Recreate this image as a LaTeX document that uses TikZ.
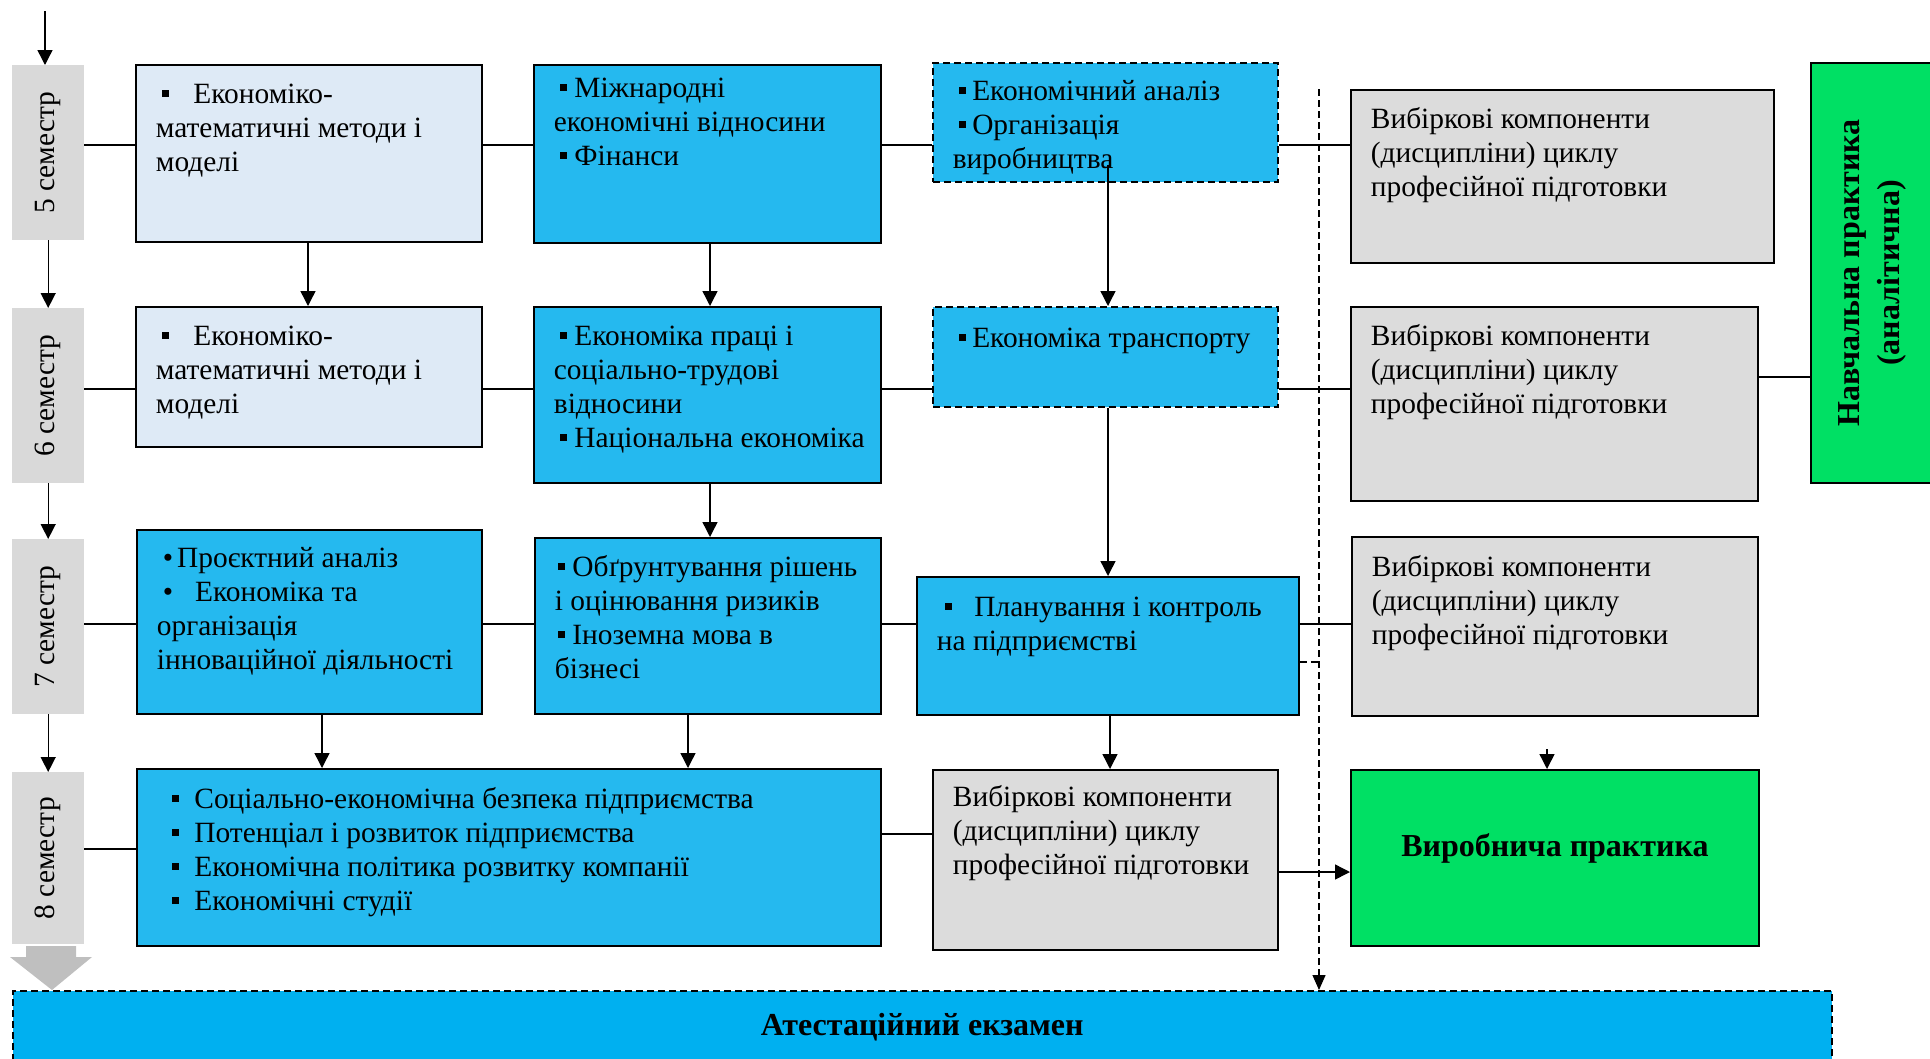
\documentclass[tikz,border=0pt]{standalone}
\usepackage{fontspec}
\setmainfont{Liberation Serif}
\usepackage{graphicx}
\usetikzlibrary{arrows.meta,calc}

\definecolor{semgray}{HTML}{D9D9D9}
\definecolor{lblue}{HTML}{DEEAF6}
\definecolor{cblue}{HTML}{25B9EF}
\definecolor{cgray}{HTML}{DCDCDC}
\definecolor{cgreen}{HTML}{00E064}
\definecolor{examblue}{HTML}{00B0F0}
\definecolor{arrgray}{HTML}{BFBFBF}

\newcommand\fs{\fontsize{29.4}{34}\selectfont}
\newcommand\fb{\fontsize{32}{40}\selectfont\bfseries}
\newcommand\sqb{\raisebox{6.5pt}{\rule{7.5pt}{7.5pt}}}
% width, height, first baseline, content
\newcommand\cellbox[4]{\makebox[#1pt][l]{\hspace*{20pt}\parbox[t][#2pt][t]{1500pt}{\fs\raggedright\rule{0pt}{#3pt}#4}}}

\begin{document}
\begin{tikzpicture}[x=1pt,y=-1pt,
  boxbase/.style={draw=black, line width=1.8pt, inner sep=0pt, anchor=north west},
  lightbox/.style={boxbase, fill=lblue},
  bluebox/.style={boxbase, fill=cblue},
  bluedash/.style={boxbase, fill=cblue, line width=1.5pt, dash pattern=on 7pt off 4pt},
  graybox/.style={boxbase, fill=cgray},
  greenbox/.style={boxbase, fill=cgreen},
  sembox/.style={fill=semgray, inner sep=0pt, anchor=north west, minimum width=72pt, font=\fs},
  ln/.style={line width=1.4pt},
  arr/.style={line width=1.4pt, -{Triangle[width=15pt,length=15pt]}},
  dln/.style={line width=1.3pt, dash pattern=on 7pt off 4pt},
  darr/.style={dln, -{Triangle[width=13pt,length=15pt]}},
]
\useasboundingbox (0,0) rectangle (1930,1058);

% semester labels
\node[sembox, minimum height=175pt] (S5) at (12,65) {\rotatebox{90}{5 семестр}};
\node[sembox, minimum height=175pt] (S6) at (12,308) {\rotatebox{90}{6 семестр}};
\node[sembox, minimum height=175pt] (S7) at (12,539) {\rotatebox{90}{7 семестр}};
\node[sembox, minimum height=172pt] (S8) at (12,772) {\rotatebox{90}{8 семестр}};

% row 5
\node[lightbox] (A5) at (135,64) {\cellbox{346}{177}{39}{\hspace*{6pt}\sqb\hspace{24pt}Економіко-\\математичні методи і\\моделі}};
\node[bluebox] (B5) at (533,64) {\cellbox{347}{178}{33}{\hspace*{6pt}\sqb\hspace{7pt}Міжнародні\\економічні відносини\\\hspace*{6pt}\sqb\hspace{7pt}Фінанси}};
\node[bluedash] (C5) at (932,62) {\cellbox{345}{119}{38}{\hspace*{6pt}\sqb\hspace{6pt}Економічний аналіз\\\hspace*{6pt}\sqb\hspace{6pt}Організація\\виробництва}};
\node[graybox] (D5) at (1350,89) {\cellbox{423}{173}{39}{Вибіркові компоненти\\(дисципліни) циклу\\професійної підготовки}};
\node[greenbox, minimum width=122pt, minimum height=420pt] (NP) at (1810,62)
  {\rotatebox{90}{\fb\begin{tabular}{@{}c@{}}Навчальна практика\\(аналітична)\end{tabular}}};

% row 6
\node[lightbox] (A6) at (135,306) {\cellbox{346}{140}{39}{\hspace*{6pt}\sqb\hspace{24pt}Економіко-\\математичні методи і\\моделі}};
\node[bluebox] (B6) at (533,306) {\cellbox{347}{176}{39}{\hspace*{6pt}\sqb\hspace{7pt}Економіка праці і\\соціально-трудові\\відносини\\\hspace*{6pt}\sqb\hspace{7pt}Національна економіка}};
\node[bluedash] (C6) at (932,306) {\cellbox{345}{100}{41}{\hspace*{6pt}\sqb\hspace{6pt}Економіка транспорту}};
\node[graybox] (D6) at (1350,306) {\cellbox{407}{194}{39}{Вибіркові компоненти\\(дисципліни) циклу\\професійної підготовки}};

% row 7
\node[bluebox] (A7) at (136,529) {\cellbox{345}{184}{38}{\hspace*{6pt}\textbullet\hspace{4pt}Проєктний аналіз\\\hspace*{6pt}\textbullet\hspace{22pt}Економіка та\\організація\\інноваційної діяльності}};
\node[bluebox] (B7) at (534,537) {\cellbox{346}{176}{39}{\hspace*{3pt}\sqb\hspace{7pt}Обґрунтування рішень\\і оцінювання ризиків\\\hspace*{3pt}\sqb\hspace{7pt}Іноземна мова в\\бізнесі}};
\node[bluebox] (C7) at (916,576) {\cellbox{382}{138}{40}{\hspace*{8pt}\sqb\hspace{22pt}Планування і контроль\\на підприємстві}};
\node[graybox] (D7) at (1351,536) {\cellbox{406}{179}{40}{Вибіркові компоненти\\(дисципліни) циклу\\професійної підготовки}};

% row 8
\node[bluebox] (A8) at (136,768) {\cellbox{744}{177}{40}{\hspace*{15pt}\sqb\hspace{15pt}Соціально-економічна безпека підприємства\\\hspace*{15pt}\sqb\hspace{15pt}Потенціал і розвиток підприємства\\\hspace*{15pt}\sqb\hspace{15pt}Економічна політика розвитку компанії\\\hspace*{15pt}\sqb\hspace{15pt}Економічні студії}};
\node[graybox] (C8) at (932,769) {\cellbox{345}{180}{37}{Вибіркові компоненти\\(дисципліни) циклу\\професійної підготовки}};
\node[greenbox, minimum width=408pt, minimum height=176pt,
  label={[font=\fb, yshift=9pt]center:Виробнича практика}] (D8) at (1350,769) {};

% exam
\node[boxbase, fill=examblue, line width=1.5pt, dash pattern=on 7pt off 4pt,
  minimum width=1819pt, minimum height=72pt, font=\fb] (EX) at (12,990) {Атестаційний екзамен};

% big grey arrow below semesters
\fill[arrgray] (26,946) -- (76,946) -- (76,957) -- (92,957) -- (52,990) -- (10,957) -- (26,957) -- cycle;

% helper coordinates
\coordinate (r5) at (0,145);
\coordinate (r6) at (0,389);
\coordinate (r7) at (0,624);
\coordinate (r8a) at (0,849);
\coordinate (r8b) at (0,834);
\coordinate (r8c) at (0,872);
\coordinate (rnp) at (0,377);
\coordinate (r7d) at (0,662);
\coordinate (xa5) at (308,0);
\coordinate (xb) at (710,0);
\coordinate (xc) at (1108,0);
\coordinate (xa7) at (322,0);
\coordinate (xb7) at (688,0);
\coordinate (xc7) at (1110,0);
\coordinate (topin) at (45,11);
\coordinate (dtop) at (1319,89);
\coordinate (pin) at (1547,749);

% semester arrows
\draw[arr] (topin) -- (topin |- S5.north);
\draw[arr] (S5.south) -- (S6.north);
\draw[arr] (S6.south) -- (S7.north);
\draw[arr] (S7.south) -- (S8.north);

% row connectors
\draw[ln] (S5.east |- r5) -- (A5.west |- r5);
\draw[ln] (A5.east |- r5) -- (B5.west |- r5);
\draw[ln] (B5.east |- r5) -- (C5.west |- r5);
\draw[ln] (C5.east |- r5) -- (D5.west |- r5);

\draw[ln] (S6.east |- r6) -- (A6.west |- r6);
\draw[ln] (A6.east |- r6) -- (B6.west |- r6);
\draw[ln] (B6.east |- r6) -- (C6.west |- r6);
\draw[ln] (C6.east |- r6) -- (D6.west |- r6);
\draw[ln] (D6.east |- rnp) -- (NP.west |- rnp);

\draw[ln] (S7.east |- r7) -- (A7.west |- r7);
\draw[ln] (A7.east |- r7) -- (B7.west |- r7);
\draw[ln] (B7.east |- r7) -- (C7.west |- r7);
\draw[ln] (C7.east |- r7) -- (D7.west |- r7);

\draw[ln] (S8.east |- r8a) -- (A8.west |- r8a);
\draw[ln] (A8.east |- r8b) -- (C8.west |- r8b);
\draw[arr] (C8.east |- r8c) -- (D8.west |- r8c);

% vertical arrows
\draw[arr] (A5.south -| xa5) -- (A6.north -| xa5);
\draw[arr] (B5.south -| xb) -- (B6.north -| xb);
\draw[arr] ($(C5.south -| xc)+(0,-18)$) -- (C6.north -| xc);
\draw[arr] (B6.south -| xb) -- (B7.north -| xb);
\draw[arr] (C6.south -| xc) -- (C7.north -| xc);
\draw[arr] (A7.south -| xa7) -- (A8.north -| xa7);
\draw[arr] (B7.south -| xb7) -- (A8.north -| xb7);
\draw[arr] (C7.south -| xc7) -- (C8.north -| xc7);
\draw[arr] (pin) -- (pin |- D8.north);

% dashed line to exam
\draw[darr] (dtop) -- (dtop |- EX.north);
\draw[dln] (C7.east |- r7d) -- (dtop |- r7d);
\end{tikzpicture}
\end{document}
